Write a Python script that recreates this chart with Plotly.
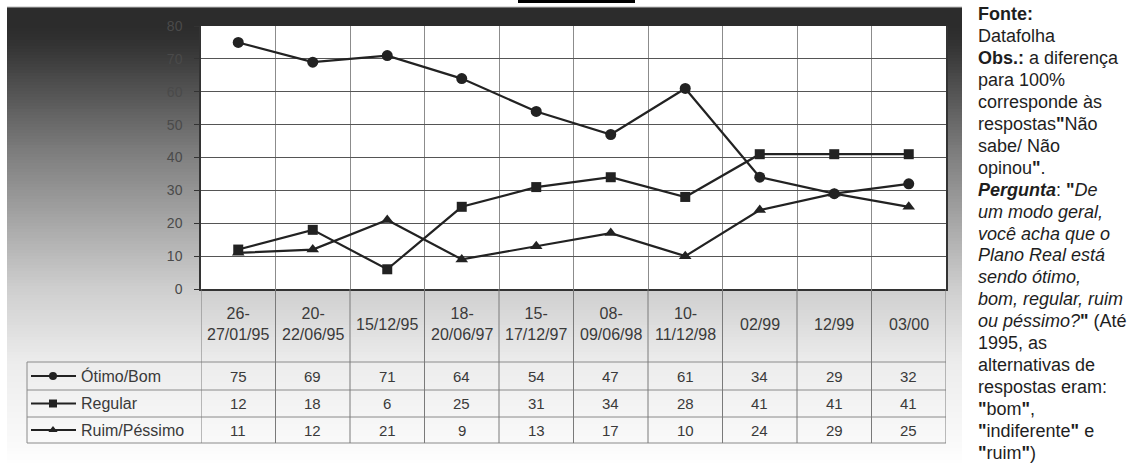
import plotly.graph_objects as go

W, H = 1141, 465

# ---------------- data ----------------
categories = ["26-<br>27/01/95", "20-<br>22/06/95", "15/12/95", "18-<br>20/06/97",
              "15-<br>17/12/97", "08-<br>09/06/98", "10-<br>11/12/98", "02/99", "12/99", "03/00"]
otimo_bom = [75, 69, 71, 64, 54, 47, 61, 34, 29, 32]
regular = [12, 18, 6, 25, 31, 34, 28, 41, 41, 41]
ruim_pessimo = [11, 12, 21, 9, 13, 17, 10, 24, 29, 25]
series_names = ["Ótimo/Bom", "Regular", "Ruim/Péssimo"]
series_symbols = ["circle", "square", "triangle-up"]
y_ticks = [0, 10, 20, 30, 40, 50, 60, 70, 80]

note_lines = [
    "<b>Fonte:</b>",
    "Datafolha",
    "<b>Obs.:</b> a diferença",
    "para 100%",
    "corresponde às",
    "respostas<b>\"</b>Não",
    "sabe/ Não",
    "opinou<b>\"</b>.",
    "<b><i>Pergunta</i></b>: <b>\"</b><i>De</i>",
    "<i>um modo geral,</i>",
    "<i>você acha que o</i>",
    "<i>Plano Real está</i>",
    "<i>sendo ótimo,</i>",
    "<i>bom, regular, ruim</i>",
    "<i>ou péssimo?</i><b>\"</b> (Até",
    "1995, as",
    "alternativas de",
    "respostas eram:",
    "<b>\"</b>bom<b>\"</b>,",
    "<b>\"</b>indiferente<b>\"</b> e",
    "<b>\"</b>ruim<b>\"</b>)",
]

# ---------------- geometry (pixels) ----------------
PL, PR, PT, PB = 201, 946, 26, 289
TL = 27
row_lines = [362, 390, 417, 443]
row_centers = [376, 403.5, 430]
header_center = 324
FONT = "Liberation Sans, Arial, sans-serif"

series = [otimo_bom, regular, ruim_pessimo]
n = len(categories)
xs = list(range(n))

fig = go.Figure()

for name, vals, sym in zip(series_names, series, series_symbols):
    fig.add_trace(go.Scatter(
        x=xs, y=vals, name=name, mode="lines+markers",
        line=dict(color="#222222", width=2.2),
        marker=dict(symbol=sym, size=11 if sym != "square" else 10, color="#222222"),
        showlegend=False, cliponaxis=False, hoverinfo="skip"))

# legend icons in the table (pixel overlay axes)
for name, sym, yc in zip(series_names, series_symbols, row_centers):
    fig.add_trace(go.Scatter(
        x=[31, 76], y=[yc, yc], mode="lines", line=dict(color="#222222", width=2),
        xaxis="x2", yaxis="y2", showlegend=False, hoverinfo="skip"))
    fig.add_trace(go.Scatter(
        x=[53], y=[yc], mode="markers",
        marker=dict(symbol=sym, size=8, color="#222222"),
        xaxis="x2", yaxis="y2", showlegend=False, hoverinfo="skip"))

shapes = []

# vertical gradient background panel
def gray_at(y):
    stops = [(7, 0x2c), (28, 0x2c), (45, 0x33), (150, 0x7c), (290, 0xcf),
             (362, 0xec), (445, 0xfa), (465, 0xff)]
    for (y0, g0), (y1, g1) in zip(stops[:-1], stops[1:]):
        if y0 <= y <= y1:
            return int(round(g0 + (g1 - g0) * (y - y0) / (y1 - y0)))
    return 0xff

step = 3
y = 7
while y < H:
    g = gray_at(y + step / 2)
    shapes.append(dict(type="rect", xref="paper", yref="paper", layer="below",
                       x0=7 / W, x1=962 / W, y0=1 - (y + step + 0.5) / H, y1=1 - y / H,
                       fillcolor=f"rgb({g},{g},{g})", line=dict(width=0)))
    y += step
# light top edge
shapes.append(dict(type="line", xref="paper", yref="paper", layer="below",
                   x0=7 / W, x1=962 / W, y0=1 - 7 / H, y1=1 - 7 / H,
                   line=dict(color="#bdbdbd", width=1)))
# black bar at the very top
shapes.append(dict(type="rect", xref="paper", yref="paper",
                   x0=518 / W, x1=635 / W, y0=1 - 3 / H, y1=1.0,
                   fillcolor="#000000", line=dict(width=0)))
# white plot area
shapes.append(dict(type="rect", xref="x", yref="y", layer="below",
                   x0=-0.5, x1=n - 0.5, y0=0, y1=80,
                   fillcolor="#ffffff", line=dict(width=0)))

TCOL = "#8a8a8a"
# table horizontal lines
for yl in row_lines:
    shapes.append(dict(type="line", xref="x2", yref="y2", x0=TL, x1=PR, y0=yl, y1=yl,
                       line=dict(color=TCOL, width=1)))
# table left edge
shapes.append(dict(type="line", xref="x2", yref="y2", x0=TL, x1=TL,
                   y0=row_lines[0], y1=row_lines[-1], line=dict(color=TCOL, width=1)))
# column boundaries in the table
for k in range(n + 1):
    shapes.append(dict(type="line", xref="x", yref="y2", x0=k - 0.5, x1=k - 0.5,
                       y0=PB, y1=row_lines[-1], line=dict(color="#7a7a7a", width=1)))

annotations = []
for i, c in enumerate(categories):
    annotations.append(dict(x=i, xref="x", y=header_center, yref="y2", text=c,
                            showarrow=False, yanchor="middle", xanchor="center",
                            font=dict(family=FONT, size=16, color="#3a3a3a")))
for vals, yc in zip(series, row_centers):
    for i, v in enumerate(vals):
        annotations.append(dict(x=i, xref="x", y=yc, yref="y2", text=str(v),
                                showarrow=False, yanchor="middle", xanchor="center",
                                font=dict(family=FONT, size=15, color="#3a3a3a")))
for name, yc in zip(series_names, row_centers):
    annotations.append(dict(x=79, xref="x2", y=yc, yref="y2", text=name,
                            showarrow=False, yanchor="middle", xanchor="left",
                            font=dict(family=FONT, size=16, color="#3a3a3a")))
for j, line in enumerate(note_lines):
    annotations.append(dict(x=976, xref="x2", y=14 + 21.95 * j, yref="y2", text=line,
                            showarrow=False, yanchor="middle", xanchor="left",
                            font=dict(family=FONT, size=18, color="#1e1e1e")))

fig.update_layout(
    width=W, height=H, margin=dict(l=0, r=0, t=0, b=0, pad=0, autoexpand=False),
    paper_bgcolor="#ffffff", plot_bgcolor="rgba(0,0,0,0)",
    shapes=shapes, annotations=annotations,
    xaxis=dict(domain=[PL / W, PR / W], range=[-0.5, n - 0.5], automargin=False,
               tickvals=[k + 0.5 for k in range(n - 1)], showticklabels=False,
               ticks="", showgrid=True, gridcolor="#8c8c8c", gridwidth=1,
               zeroline=False, showline=True, linecolor="#333333", linewidth=2,
               fixedrange=True),
    yaxis=dict(domain=[1 - PB / H, 1 - PT / H], range=[0, 80], tickvals=y_ticks,
               automargin=False,
               showgrid=True, gridcolor="#555555", gridwidth=1, zeroline=False,
               ticks="outside", ticklen=5, tickcolor="#333333",
               ticklabelstandoff=9,
               tickfont=dict(family=FONT, size=14, color="#4a4a4a"),
               showline=True, linecolor="#333333", linewidth=1.5, mirror=True,
               fixedrange=True),
    xaxis2=dict(domain=[0, 1], range=[0, W], visible=False, anchor="y2",
                automargin=False, fixedrange=True),
    yaxis2=dict(domain=[0, 1], range=[H, 0], visible=False, anchor="x2",
                automargin=False, fixedrange=True),
)

fig.write_html("out.html")
